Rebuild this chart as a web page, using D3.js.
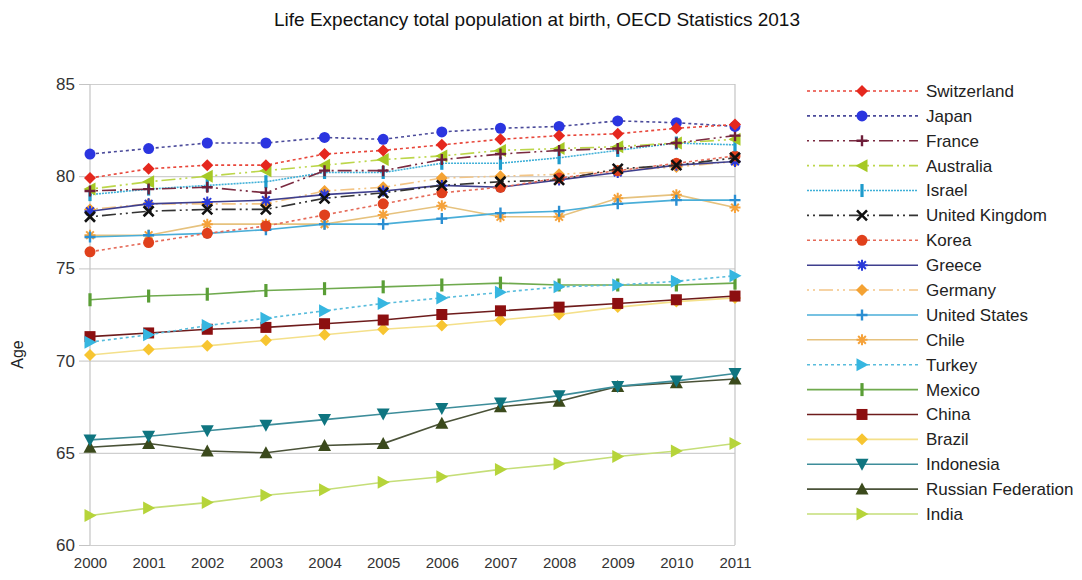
<!DOCTYPE html>
<html>
<head>
<meta charset="utf-8">
<script src="https://cdn.jsdelivr.net/npm/d3@7/dist/d3.min.js"></script>
<style>
  body { margin: 0; background: #fff; }
  svg { font-family: "Liberation Sans", Arial, Helvetica, sans-serif; }
</style>
</head>
<body>
<svg id="chart" width="1082" height="580"></svg>
<script>
// Life expectancy at birth, total population (years)
const years = [2000, 2001, 2002, 2003, 2004, 2005, 2006, 2007, 2008, 2009, 2010, 2011];
const yTicks = [60, 65, 70, 75, 80, 85];

const countries = ["Switzerland", "Japan", "France", "Australia", "Israel", "United Kingdom",
  "Korea", "Greece", "Germany", "United States", "Chile", "Turkey", "Mexico", "China",
  "Brazil", "Indonesia", "Russian Federation", "India"];

const switzerland   = [79.9, 80.4, 80.6, 80.6, 81.2, 81.4, 81.7, 82.0, 82.2, 82.3, 82.6, 82.8];
const japan         = [81.2, 81.5, 81.8, 81.8, 82.1, 82.0, 82.4, 82.6, 82.7, 83.0, 82.9, 82.7];
const france        = [79.2, 79.3, 79.4, 79.1, 80.3, 80.3, 80.9, 81.2, 81.4, 81.5, 81.8, 82.2];
const australia     = [79.3, 79.7, 80.0, 80.3, 80.6, 80.9, 81.1, 81.4, 81.5, 81.6, 81.8, 82.0];
const israel        = [79.0, 79.3, 79.5, 79.7, 80.2, 80.2, 80.7, 80.7, 81.0, 81.4, 81.8, 81.7];
const unitedKingdom = [77.8, 78.1, 78.2, 78.2, 78.8, 79.1, 79.5, 79.7, 79.8, 80.4, 80.6, 81.0];
const korea         = [75.9, 76.4, 76.9, 77.3, 77.9, 78.5, 79.1, 79.4, 79.9, 80.3, 80.7, 81.1];
const greece        = [78.1, 78.5, 78.6, 78.7, 79.0, 79.2, 79.5, 79.4, 79.8, 80.2, 80.6, 80.8];
const germany       = [78.2, 78.5, 78.5, 78.5, 79.2, 79.4, 79.9, 80.0, 80.1, 80.3, 80.5, 80.8];
const unitedStates  = [76.7, 76.8, 76.9, 77.1, 77.4, 77.4, 77.7, 78.0, 78.1, 78.5, 78.7, 78.7];
const chile         = [76.8, 76.8, 77.4, 77.4, 77.4, 77.9, 78.4, 77.8, 77.8, 78.8, 79.0, 78.3];
const turkey        = [71.0, 71.4, 71.9, 72.3, 72.7, 73.1, 73.4, 73.7, 74.0, 74.1, 74.3, 74.6];
const mexico        = [73.3, 73.5, 73.6, 73.8, 73.9, 74.0, 74.1, 74.2, 74.1, 74.1, 74.1, 74.2];
const china         = [71.3, 71.5, 71.7, 71.8, 72.0, 72.2, 72.5, 72.7, 72.9, 73.1, 73.3, 73.5];
const brazil        = [70.3, 70.6, 70.8, 71.1, 71.4, 71.7, 71.9, 72.2, 72.5, 72.9, 73.2, 73.4];
const indonesia     = [65.7, 65.9, 66.2, 66.5, 66.8, 67.1, 67.4, 67.7, 68.1, 68.6, 68.9, 69.3];
const russia        = [65.3, 65.5, 65.1, 65.0, 65.4, 65.5, 66.6, 67.5, 67.8, 68.6, 68.8, 69.0];
const india         = [61.6, 62.0, 62.3, 62.7, 63.0, 63.4, 63.7, 64.1, 64.4, 64.8, 65.1, 65.5];

const seriesValues = [switzerland, japan, france, australia, israel, unitedKingdom, korea,
  greece, germany, unitedStates, chile, turkey, mexico, china, brazil, indonesia, russia, india];

// Line and marker styling per series (same order as countries)
const DOT = "3,3", DASHDOT = "2,4,2,4,14,4", FINE = "2,1";
const styles = [
  { line: "#e8463a", dash: DOT,     marker: "diamond",  fill: "#e5281e" },
  { line: "#4a4a9a", dash: DOT,     marker: "circle",   fill: "#2b35e0" },
  { line: "#7a2a40", dash: DASHDOT, marker: "plus",     fill: "#6e1f3a" },
  { line: "#bcd64a", dash: DASHDOT, marker: "triLeft",  fill: "#a6c925" },
  { line: "#3fb0d8", dash: FINE,    marker: "bar",      fill: "#1e9bcc" },
  { line: "#333333", dash: DASHDOT, marker: "times",    fill: "#111111" },
  { line: "#e56a58", dash: DOT,     marker: "circle",   fill: "#e0401c" },
  { line: "#3f3f8e", dash: null,    marker: "asterisk", fill: "#2a3ad8" },
  { line: "#f3c586", dash: DASHDOT, marker: "diamond",  fill: "#f4a233" },
  { line: "#4aaed8", dash: null,    marker: "plus",     fill: "#2b8fd2" },
  { line: "#e6c27e", dash: null,    marker: "asterisk", fill: "#f5a23a" },
  { line: "#58bcdc", dash: DOT,     marker: "triRight", fill: "#36b6e0" },
  { line: "#6faa4e", dash: null,    marker: "bar",      fill: "#5a9e36" },
  { line: "#6e1c1c", dash: null,    marker: "square",   fill: "#8c0f10" },
  { line: "#f4e08a", dash: null,    marker: "diamond",  fill: "#f7c531" },
  { line: "#3d8d9a", dash: null,    marker: "triDown",  fill: "#0f7580" },
  { line: "#4a5238", dash: null,    marker: "triUp",    fill: "#3b4a1c" },
  { line: "#c5de78", dash: null,    marker: "triRight", fill: "#b6d43a" }
];

const W = 1082, H = 580;
const plot = { left: 90, right: 735, top: 84, bottom: 545 };

const svg = d3.select("#chart");

const x = d3.scaleLinear().domain([2000, 2011]).range([plot.left, plot.right]);
const y = d3.scaleLinear().domain([60, 85]).range([plot.bottom, plot.top]);

// Title
svg.append("text")
  .attr("x", 537).attr("y", 26)
  .attr("text-anchor", "middle")
  .attr("font-size", 19).attr("fill", "#111")
  .text("Life Expectancy total population at birth, OECD Statistics 2013");

// Horizontal grid lines
svg.append("g")
  .attr("transform", `translate(${plot.left},0)`)
  .call(d3.axisLeft(y).tickValues(yTicks).tickSize(-(plot.right - plot.left)).tickFormat(""))
  .call(g => g.select(".domain").remove())
  .call(g => g.selectAll("line").attr("stroke", "#cfcfcf").attr("stroke-width", 1.2));

// Vertical frame lines
svg.append("g").selectAll("line")
  .data([2000, 2011]).join("line")
  .attr("x1", d => x(d)).attr("x2", d => x(d))
  .attr("y1", plot.top).attr("y2", plot.bottom)
  .attr("stroke", "#c4c4c4").attr("stroke-width", 1.2);

// Y axis
svg.append("g")
  .attr("transform", `translate(${plot.left},0)`)
  .call(d3.axisLeft(y).tickValues(yTicks).tickSize(11).tickPadding(4))
  .call(g => g.select(".domain").remove())
  .call(g => g.selectAll("line").attr("stroke", "#c4c4c4"))
  .call(g => g.selectAll("text").attr("font-size", 17).attr("fill", "#333")
    .attr("font-family", "Liberation Sans, Arial, sans-serif"));

// X axis labels
svg.append("g")
  .attr("transform", `translate(0,${plot.bottom})`)
  .call(d3.axisBottom(x).tickValues(years).tickFormat(d3.format("d")).tickSize(0).tickPadding(12))
  .call(g => g.select(".domain").remove())
  .call(g => g.selectAll("text").attr("font-size", 15).attr("fill", "#333")
    .attr("font-family", "Liberation Sans, Arial, sans-serif"));

// Y axis title
svg.append("text")
  .attr("transform", `translate(23,${(plot.top + plot.bottom) / 2 + 40}) rotate(-90)`)
  .attr("text-anchor", "middle")
  .attr("font-size", 16).attr("fill", "#222")
  .text("Age");

// Marker drawing
function drawMarker(sel, kind, color) {
  const s = 5.5;
  if (kind === "circle") {
    sel.append("circle").attr("r", s).attr("fill", color);
  } else if (kind === "diamond") {
    sel.append("path").attr("d", `M0,${-s - 0.5}L${s + 0.5},0L0,${s + 0.5}L${-s - 0.5},0Z`).attr("fill", color);
  } else if (kind === "square") {
    sel.append("rect").attr("x", -s).attr("y", -s).attr("width", 2 * s).attr("height", 2 * s).attr("fill", color);
  } else if (kind === "triUp") {
    sel.append("path").attr("d", `M0,${-s - 1}L${s + 1},${s}L${-s - 1},${s}Z`).attr("fill", color);
  } else if (kind === "triDown") {
    sel.append("path").attr("d", `M0,${s + 1}L${s + 1},${-s}L${-s - 1},${-s}Z`).attr("fill", color);
  } else if (kind === "triLeft") {
    sel.append("path").attr("d", `M${-s - 1},0L${s},${-s - 1}L${s},${s + 1}Z`).attr("fill", color);
  } else if (kind === "triRight") {
    sel.append("path").attr("d", `M${s + 1},0L${-s},${-s - 1}L${-s},${s + 1}Z`).attr("fill", color);
  } else if (kind === "bar") {
    sel.append("rect").attr("x", -1.6).attr("y", -s - 1).attr("width", 3.2).attr("height", 2 * s + 2).attr("fill", color);
  } else if (kind === "plus") {
    sel.append("path").attr("d", `M${-s},0H${s}M0,${-s}V${s}`)
      .attr("stroke", color).attr("stroke-width", 2.4).attr("fill", "none");
  } else if (kind === "times") {
    const t = s - 0.5;
    sel.append("path").attr("d", `M${-t},${-t}L${t},${t}M${t},${-t}L${-t},${t}`)
      .attr("stroke", color).attr("stroke-width", 2.6).attr("fill", "none");
  } else if (kind === "asterisk") {
    const t = s * 0.7;
    sel.append("path")
      .attr("d", `M${-s},0H${s}M0,${-s}V${s}M${-t},${-t}L${t},${t}M${t},${-t}L${-t},${t}`)
      .attr("stroke", color).attr("stroke-width", 2).attr("fill", "none");
  }
}

const line = d3.line().x((d, i) => x(years[i])).y(d => y(d));

const seriesG = svg.append("g");
// Draw lower-listed series first so the legend's first entries stay on top
d3.range(countries.length).reverse().forEach(k => {
  const st = styles[k];
  const g = seriesG.append("g");
  g.append("path")
    .datum(seriesValues[k])
    .attr("d", line)
    .attr("fill", "none")
    .attr("stroke", st.line)
    .attr("stroke-width", 1.6)
    .attr("stroke-dasharray", st.dash);
  seriesValues[k].forEach((v, i) => {
    const m = g.append("g").attr("transform", `translate(${x(years[i])},${y(v)})`);
    drawMarker(m, st.marker, st.fill);
  });
});

// Legend
const legend = svg.append("g");
const legY = d3.scalePoint().domain(countries).range([91, 514]);
countries.forEach((c, k) => {
  const st = styles[k];
  const ly = legY(c);
  legend.append("line")
    .attr("x1", 807).attr("x2", 918).attr("y1", ly).attr("y2", ly)
    .attr("stroke", st.line).attr("stroke-width", 1.6)
    .attr("stroke-dasharray", st.dash);
  const m = legend.append("g").attr("transform", `translate(862,${ly})`);
  drawMarker(m, st.marker, st.fill);
  legend.append("text")
    .attr("x", 926).attr("y", ly).attr("dy", "0.35em")
    .attr("font-size", 17).attr("fill", "#222")
    .text(c);
});
</script>
</body>
</html>
